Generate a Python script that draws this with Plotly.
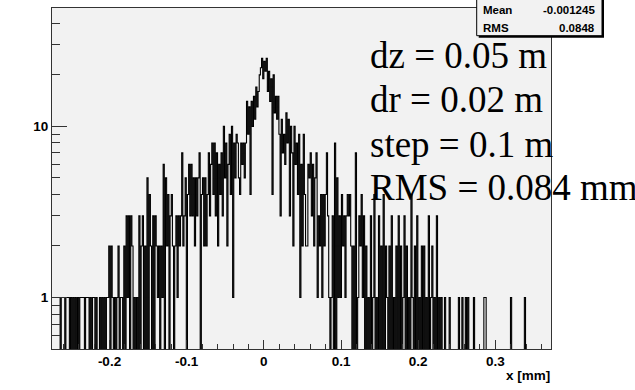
import plotly.graph_objects as go

# ---------------- data ----------------
bin_low = -0.2745      # left edge of first bin (mm)
bin_width = 0.0015     # bin width (mm)
counts = [
    1,1,1,1,1,1,1,0,1,1,1,0,1,1,1,0,1,0,1,0,
    1,0,1,0,1,1,1,1,0,1,1,1,0,1,0,1,1,0,1,0,
    0,1,0,1,0,1,0,1,1,2,0,2,1,0,1,0,1,2,0,1,
    1,0,2,0,3,1,3,0,3,2,0,1,0,1,0,3,0,2,3,0,
    2,0,5,0,4,2,0,3,0,3,2,1,2,0,2,1,6,0,5,2,
    4,0,3,4,2,0,2,3,1,3,2,3,7,2,3,5,0,4,6,3,
    6,3,5,2,5,3,5,7,0,4,5,2,5,2,4,7,3,6,8,4,
    8,3,7,2,6,4,7,3,10,5,8,2,6,9,4,10,1,8,5,9,
    8,5,4,8,6,8,5,8,14,9,13,4,14,10,15,11,17,13,16,20,
    22,25,19,24,21,25,16,21,14,19,4,20,12,15,11,15,9,3,11,7,
    9,6,12,8,11,3,10,7,2,10,6,8,4,9,1,6,2,9,4,2,
    2,6,5,7,3,6,2,5,7,1,3,2,4,1,4,2,4,7,3,1,
    0,1,3,0,8,0,5,1,3,1,4,2,3,1,3,4,3,4,2,0,
    2,0,7,0,1,3,2,4,1,3,0,2,0,1,0,3,0,1,4,0,
    1,0,3,0,2,0,4,0,2,1,0,2,0,3,0,1,0,2,0,3,
    0,2,0,1,3,0,2,0,1,0,4,1,0,2,0,3,0,1,0,2,
    0,2,0,1,0,3,0,1,2,0,1,0,3,0,1,0,1,0,0,1,
    0,0,0,1,0,0,0,0,0,0,0,1,0,0,1,0,0,1,0,1,
    0,0,0,0,1,0,0,0,0,0,0,0,0,1,1,0,0,0,0,0,
    0,0,0,0,0,0,0,0,0,0,0,0,0,0,0,0,1,0,0,0,
    0,0,0,0,0,0,0,0,1,0,0,0,0,0,0,0,0,0,0,0,
    0,0,0,0,0,0,0,0,0,0,0,
]
x_tick_vals = [-0.2, -0.1, 0.0, 0.1, 0.2, 0.3]
x_tick_text = ["-0.2", "-0.1", "0", "0.1", "0.2", "0.3"]
y_tick_vals = [1, 10]
y_tick_text = ["1", "10"]
y_minor_vals = [0.6, 0.7, 0.8, 0.9, 2, 3, 4, 5, 6, 7, 8, 9, 20, 30, 40]
stat_names = ["Mean", "RMS"]
stat_values = ["-0.001245", "0.0848"]
notes = ["dz = 0.05 m", "dr = 0.02 m", "step = 0.1 m", "RMS = 0.084 mm"]
x_title = "x [mm]"

# ---------------- geometry helpers ----------------
W, H = 635, 390
L, R, T, B = 52, 84, 8, 41
PW, PH = W - L - R, H - T - B


def px(X):
    return (X - L) / PW


def py(Y):
    return (H - B - Y) / PH


def bold(s):
    return "<b>" + s + "</b>"


# step outline of the histogram; empty bins drop below the frame
edges = [bin_low + i * bin_width for i in range(len(counts) + 1)]
ys = [c if c > 0 else 1e-3 for c in counts]
ys = ys + [ys[-1]]

fig = go.Figure()
fig.add_trace(go.Scatter(
    x=edges, y=ys, mode="lines", line=dict(color="black", width=1.1, shape="hv"),
    hoverinfo="skip", showlegend=False))

lab_font = dict(family="Liberation Sans, Arial, sans-serif", size=13.5, color="black")

fig.update_layout(
    width=W, height=H, margin=dict(l=L, r=R, t=T, b=B, pad=0),
    paper_bgcolor="white", plot_bgcolor="#f2f2f2", showlegend=False,
    xaxis=dict(range=[bin_low, edges[-1]], showgrid=False, zeroline=False,
               showline=True, linecolor="#333333", linewidth=1, mirror=True,
               ticks="inside", ticklen=9, tickcolor="#333333", tickwidth=1,
               tickmode="array", tickvals=x_tick_vals,
               ticktext=[bold(t) for t in x_tick_text],
               tickfont=lab_font,
               minor=dict(ticks="inside", ticklen=5, tickcolor="#333333", dtick=0.02, tick0=0,
                          showgrid=False)),
    yaxis=dict(type="log", range=[-0.30103, 1.692], showgrid=False, zeroline=False,
               showline=True, linecolor="#333333", linewidth=1, mirror=True,
               ticks="inside", ticklen=15, tickcolor="#333333", tickwidth=1,
               tickmode="array", tickvals=y_tick_vals,
               ticktext=[bold(t) for t in y_tick_text],
               tickfont=lab_font,
               minor=dict(ticks="inside", ticklen=8, tickcolor="#333333",
                          tickmode="array", tickvals=y_minor_vals, showgrid=False)),
)

# x-axis title, right aligned at the frame edge
fig.add_annotation(text=bold(x_title), xref="paper", yref="paper", x=px(552), y=py(375),
                   xanchor="right", yanchor="middle", showarrow=False, font=lab_font)

# statistics box (top right, partly outside the canvas)
bx0, bx1, by0, by1 = 476.7, 602.0, -20.0, 35.7
fig.add_shape(type="rect", xref="paper", yref="paper",
              x0=px(bx0 + 2), x1=px(bx1 + 2), y0=py(by1 + 2), y1=py(by0 + 2),
              fillcolor="black", line=dict(width=0), layer="above")
fig.add_shape(type="rect", xref="paper", yref="paper",
              x0=px(bx0), x1=px(bx1), y0=py(by1), y1=py(by0),
              fillcolor="#f2f2f2", line=dict(color="black", width=1), layer="above")
stat_font = dict(family="Liberation Sans, Arial, sans-serif", size=11.5, color="black")
for i, (n, v) in enumerate(zip(stat_names, stat_values)):
    yc = 10.5 + 17.5 * i
    fig.add_annotation(text=bold(n), xref="paper", yref="paper", x=px(482), y=py(yc),
                       xanchor="left", yanchor="middle", showarrow=False, font=stat_font,
                       borderpad=0)
    fig.add_annotation(text=bold(v), xref="paper", yref="paper", x=px(596), y=py(yc),
                       xanchor="right", yanchor="middle", showarrow=False, font=stat_font,
                       borderpad=0)

# big Times labels
note_font = dict(family="Liberation Serif, Times New Roman, serif", size=37, color="black")
baselines = [68.5, 112.5, 157.0, 200.0]
for t, b in zip(notes, baselines):
    fig.add_annotation(text=t, xref="paper", yref="paper", x=px(369), y=py(b - 0.35 * 37),
                       xanchor="left", yanchor="middle", showarrow=False, font=note_font,
                       borderpad=0)

fig.write_html("out.html")
